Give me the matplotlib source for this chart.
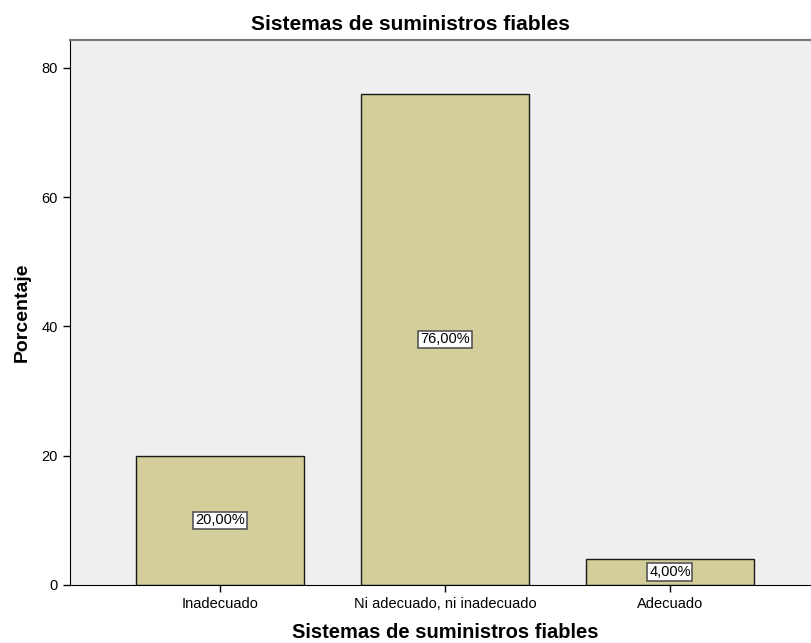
import matplotlib.pyplot as plt
from matplotlib import font_manager

categorias = ['Inadecuado', 'Ni adecuado, ni inadecuado', 'Adecuado']
porcentajes = [20.0, 76.0, 4.0]
etiquetas = ['20,00%', '76,00%', '4,00%']
yticks = [0, 20, 40, 60, 80]

names = {f.name for f in font_manager.fontManager.ttflist}
fam = 'Liberation Sans Narrow' if 'Liberation Sans Narrow' in names else 'Liberation Sans'
plt.rcParams['font.family'] = [fam, 'DejaVu Sans']

fig = plt.figure(figsize=(8.12, 6.43), dpi=100)
ax = fig.add_axes([70/812, 1-585/643, 750/812, 545/643])
ax.set_facecolor('#efefef')

x = range(len(categorias))
ax.bar(x, porcentajes, width=0.75, color='#d3ce9a', edgecolor='#1a1a1a', linewidth=1.0)
for xi, v, lab in zip(x, porcentajes, etiquetas):
    ax.text(xi, v/2, lab, ha='center', va='center', fontsize=10.5,
            bbox=dict(boxstyle='square,pad=0.12', fc='white', ec='#555555', lw=1.2))

ax.set_xlim(-0.667, 2.667)
ax.set_ylim(0, 84.33)
ax.set_xticks(list(x))
ax.set_xticklabels(categorias, fontsize=10.5)
ax.set_yticks(yticks)
ax.set_yticklabels([str(t) for t in yticks], fontsize=10.5)
ax.tick_params(direction='out', length=5, width=1, color='black', pad=4)

ax.spines['right'].set_visible(False)
ax.spines['top'].set_color('#777777')
ax.spines['top'].set_linewidth(1.5)
ax.spines['left'].set_color('black')
ax.spines['bottom'].set_color('black')

fig.text(410/812, 1-25/643, 'Sistemas de suministros fiables', ha='center', va='center',
         fontsize=15, fontweight='bold')
fig.text(445/812, 1-633/643, 'Sistemas de suministros fiables', ha='center', va='center',
         fontsize=14.5, fontweight='bold')
fig.text(22/812, 1-312/643, 'Porcentaje', ha='center', va='center', rotation=90,
         fontsize=14, fontweight='bold')

fig.savefig('out.png', dpi=100)
